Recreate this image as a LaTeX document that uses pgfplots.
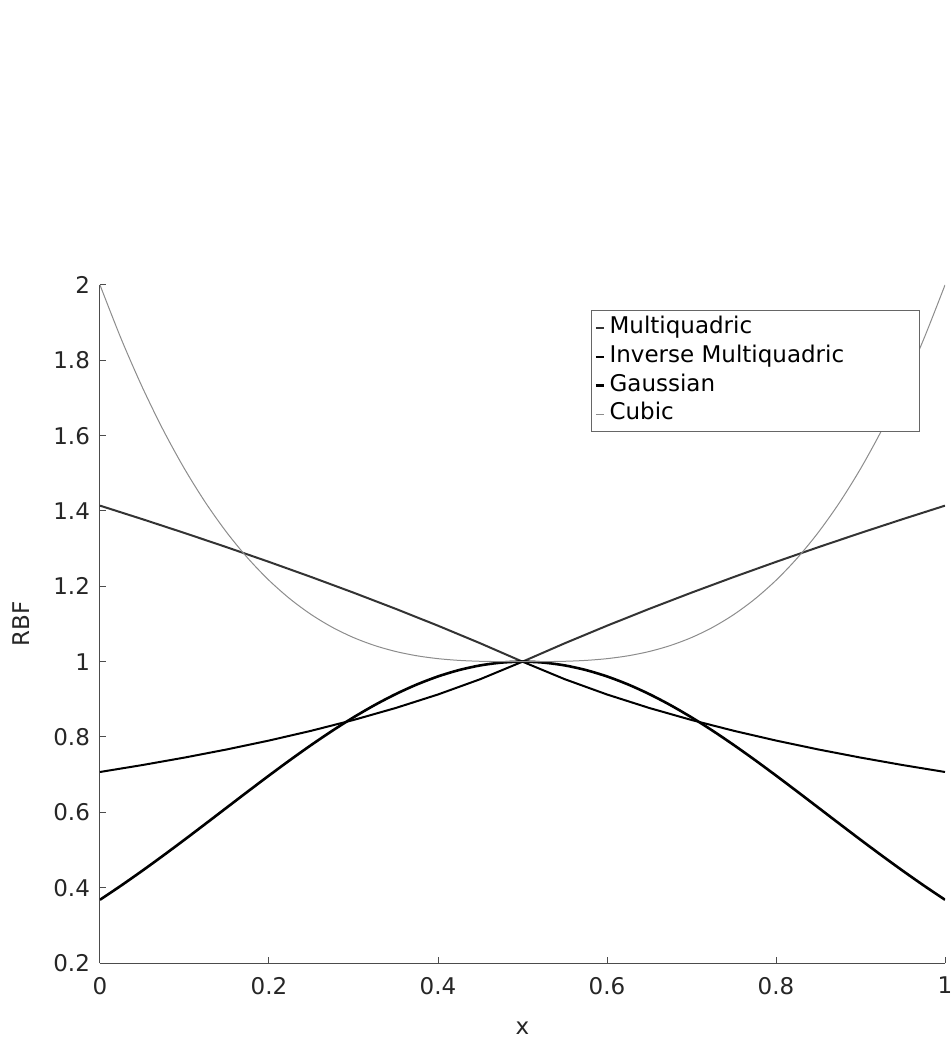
\documentclass[border=0pt]{standalone}
\usepackage{fontspec}
\setmainfont{DejaVu Sans}
\usepackage{pgfplots}
\pgfplotsset{compat=1.18}
\begin{document}
\begin{tikzpicture}
\begin{axis}[
  scale only axis,
  width=422.5pt, height=339pt,
  xmin=0, xmax=1, ymin=0.2, ymax=2,
  axis x line*=bottom, axis y line*=left,
  axis line style={black!70, line width=0.5pt},
  tick align=inside, major tick length=3pt,
  tick style={black!70, line width=0.5pt},
  xtick={0,0.2,0.4,0.6,0.8,1},
  ytick={0.2,0.4,0.6,0.8,1,1.2,1.4,1.6,1.8,2},
  /pgf/number format/assume math mode=true,
  ticklabel style={font=\fontsize{11.5}{14}\selectfont, text=black!85},
  xticklabel style={yshift=-3.5pt},
  yticklabel style={xshift=-1.5pt},
  label style={font=\fontsize{11.5}{14}\selectfont, text=black!85},
  xlabel style={yshift=-7pt},
  ylabel style={yshift=5pt},
  xlabel={x}, ylabel={RBF},
  clip=true,
  legend style={at={(0.9704,0.9631)}, anchor=north east, draw=black!60, line width=0.4pt,
    font=\fontsize{11.5}{14}\selectfont, inner sep=1.5pt, row sep=0pt,
    nodes={inner sep=2.2pt, text height=0.78em, text depth=0.22em}},
  legend cell align=left,
  legend image code/.code={\draw[#1] (0pt,0pt) -- (4pt,0pt);},
]
\addplot[black!80, line width=1pt] coordinates {
(0,1.41421)(0.05,1.37840)(0.1,1.34164)(0.15,1.30384)(0.2,1.26491)(0.25,1.22474)(0.3,1.18322)(0.35,1.14018)(0.4,1.09545)(0.45,1.04881)(0.5,1)
(0.55,1.04881)(0.6,1.09545)(0.65,1.14018)(0.7,1.18322)(0.75,1.22474)(0.8,1.26491)(0.85,1.30384)(0.9,1.34164)(0.95,1.37840)(1,1.41421)};
\addlegendentry{Multiquadric}
\addplot[black, line width=1pt] coordinates {
(0,0.70711)(0.05,0.72548)(0.1,0.74536)(0.15,0.76696)(0.2,0.79057)(0.25,0.81650)(0.3,0.84515)(0.35,0.87706)(0.4,0.91287)(0.45,0.95346)(0.5,1)
(0.55,0.95346)(0.6,0.91287)(0.65,0.87706)(0.7,0.84515)(0.75,0.81650)(0.8,0.79057)(0.85,0.76696)(0.9,0.74536)(0.95,0.72548)(1,0.70711)};
\addlegendentry{Inverse Multiquadric\hspace*{34pt}}
\addplot[black, line width=1.3pt, smooth] coordinates {
(0,0.36788)(0.025,0.40555)(0.05,0.44486)(0.075,0.48554)(0.1,0.52729)(0.125,0.56978)(0.15,0.61263)(0.175,0.65541)(0.2,0.69768)(0.225,0.73897)(0.25,0.77880)(0.275,0.81669)(0.3,0.85214)(0.325,0.88471)(0.35,0.91393)(0.375,0.93941)(0.4,0.96079)(0.425,0.97775)(0.45,0.99005)(0.475,0.99750)(0.5,1)
(0.525,0.99750)(0.55,0.99005)(0.575,0.97775)(0.6,0.96079)(0.625,0.93941)(0.65,0.91393)(0.675,0.88471)(0.7,0.85214)(0.725,0.81669)(0.75,0.77880)(0.775,0.73897)(0.8,0.69768)(0.825,0.65541)(0.85,0.61263)(0.875,0.56978)(0.9,0.52729)(0.925,0.48554)(0.95,0.44486)(0.975,0.40555)(1,0.36788)};
\addlegendentry{Gaussian}
\addplot[black!45, line width=0.5pt, smooth] coordinates {
(0,2)(0.025,1.857375)(0.05,1.729)(0.075,1.614125)(0.1,1.512)(0.125,1.421875)(0.15,1.343)(0.175,1.274625)(0.2,1.216)(0.225,1.166375)(0.25,1.125)(0.275,1.091125)(0.3,1.064)(0.325,1.042875)(0.35,1.027)(0.375,1.015625)(0.4,1.008)(0.425,1.003375)(0.45,1.001)(0.475,1.000125)(0.5,1)
(0.525,1.000125)(0.55,1.001)(0.575,1.003375)(0.6,1.008)(0.625,1.015625)(0.65,1.027)(0.675,1.042875)(0.7,1.064)(0.725,1.091125)(0.75,1.125)(0.775,1.166375)(0.8,1.216)(0.825,1.274625)(0.85,1.343)(0.875,1.421875)(0.9,1.512)(0.925,1.614125)(0.95,1.729)(0.975,1.857375)(1,2)};
\addlegendentry{Cubic}
\end{axis}
\pgfresetboundingbox
\path (current axis.south west) ++(-50pt,-37.5pt) rectangle ++(476pt,519pt);
\end{tikzpicture}
\end{document}
